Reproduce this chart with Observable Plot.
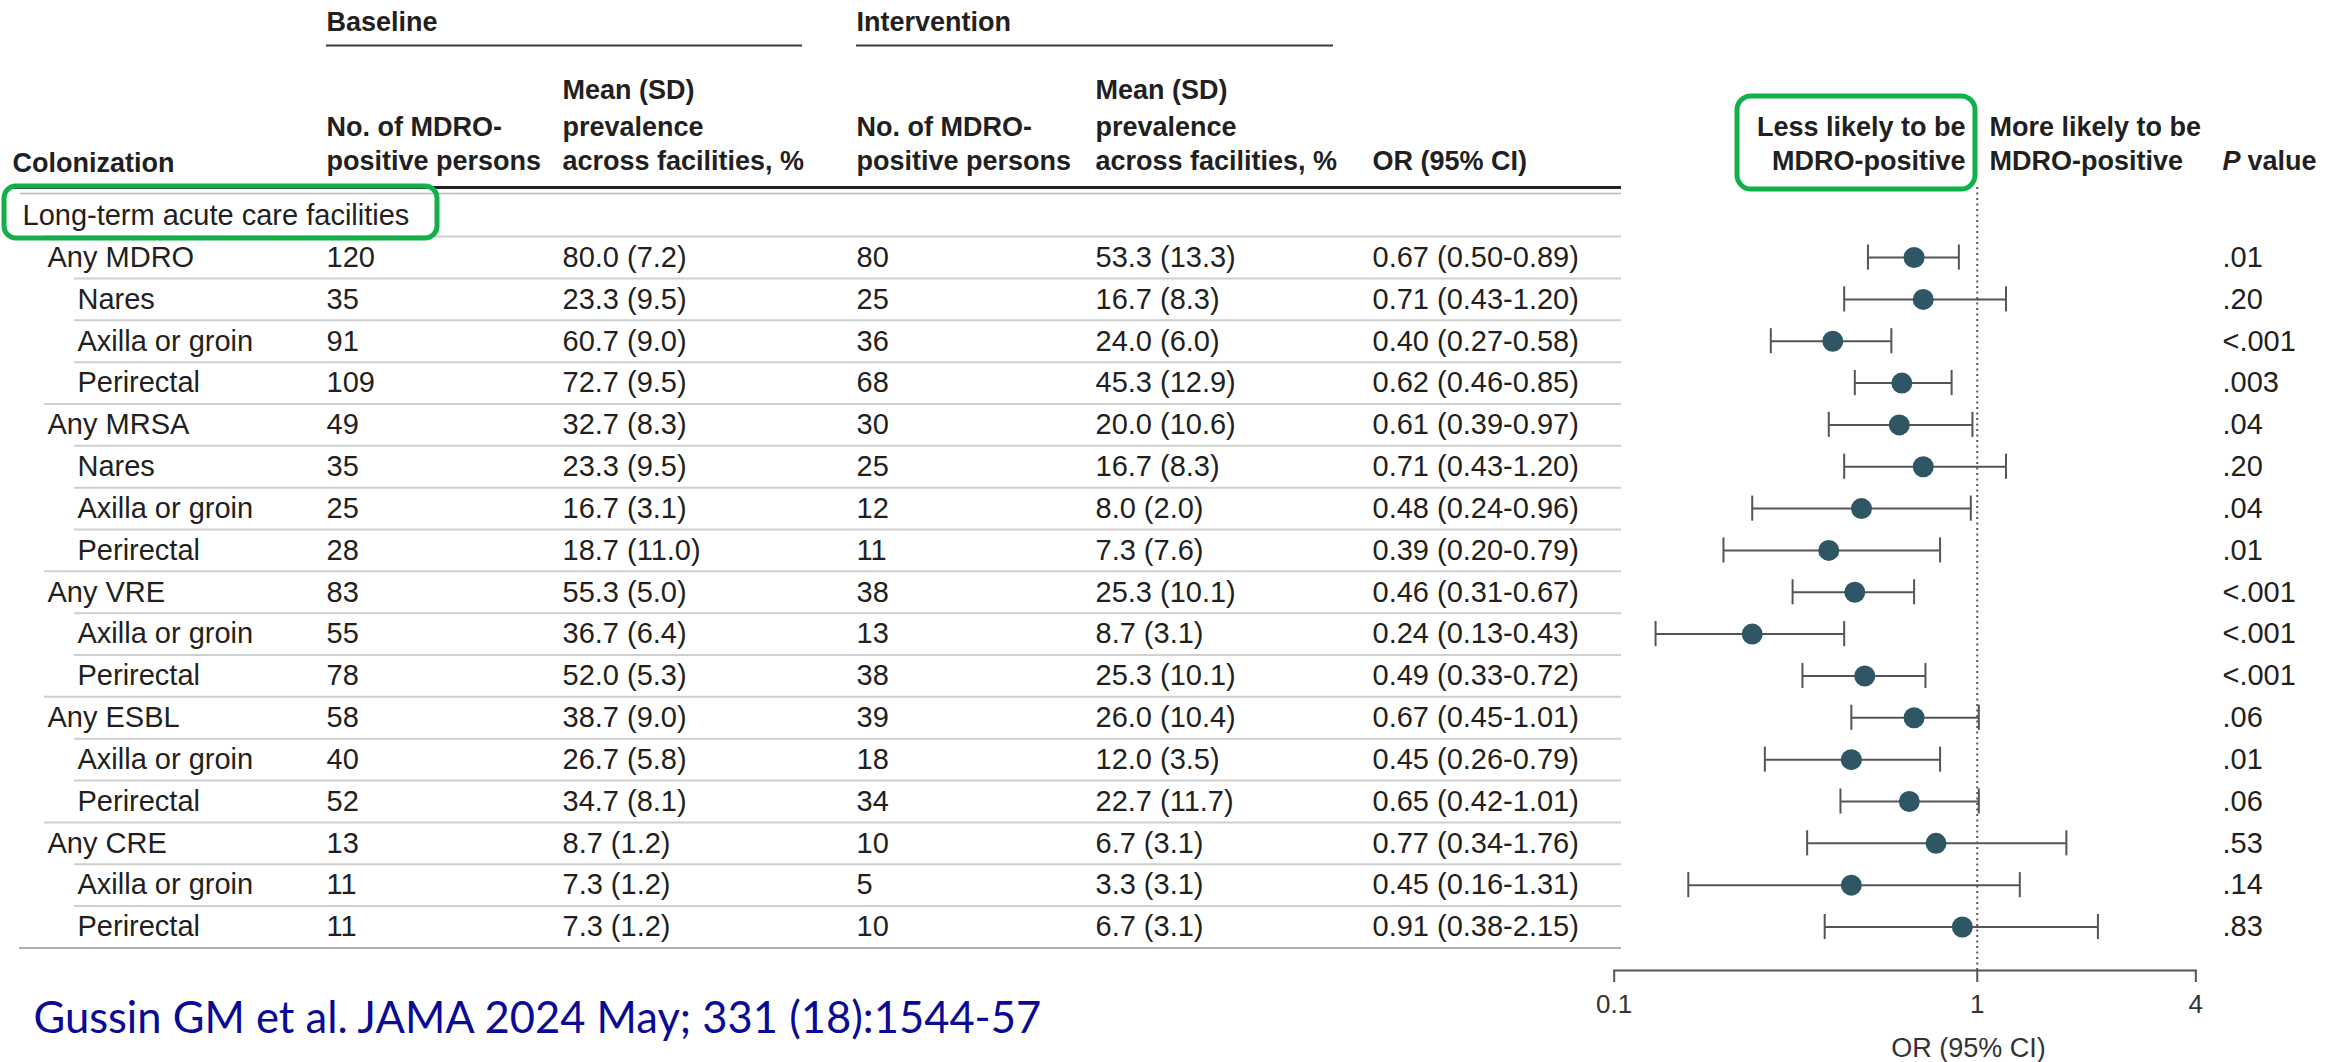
<!DOCTYPE html>
<html>
<head>
<meta charset="utf-8">
<script src="https://cdn.jsdelivr.net/npm/d3@7"></script>
<script src="https://cdn.jsdelivr.net/npm/@observablehq/plot@0.6"></script>
<style>
  html, body { margin: 0; padding: 0; background: #fff; }
  #wrap { position: relative; width: 2343px; height: 1062px; overflow: hidden; }
  #wrap svg { position: absolute; left: 0; top: 0; }
</style>
</head>
<body>
<div id="wrap"></div>
<script>
// ---------------- data ----------------
const sectionLabel = "Long-term acute care facilities";
const rowLabels = ["Any MDRO", "Nares", "Axilla or groin", "Perirectal",
  "Any MRSA", "Nares", "Axilla or groin", "Perirectal",
  "Any VRE", "Axilla or groin", "Perirectal",
  "Any ESBL", "Axilla or groin", "Perirectal",
  "Any CRE", "Axilla or groin", "Perirectal"];
const rowLevel = [0, 1, 1, 1, 0, 1, 1, 1, 0, 1, 1, 0, 1, 1, 0, 1, 1];
const baseN    = [120, 35, 91, 109, 49, 35, 25, 28, 83, 55, 78, 58, 40, 52, 13, 11, 11];
const baseMean = [80.0, 23.3, 60.7, 72.7, 32.7, 23.3, 16.7, 18.7, 55.3, 36.7, 52.0, 38.7, 26.7, 34.7, 8.7, 7.3, 7.3];
const baseSD   = [7.2, 9.5, 9.0, 9.5, 8.3, 9.5, 3.1, 11.0, 5.0, 6.4, 5.3, 9.0, 5.8, 8.1, 1.2, 1.2, 1.2];
const intN     = [80, 25, 36, 68, 30, 25, 12, 11, 38, 13, 38, 39, 18, 34, 10, 5, 10];
const intMean  = [53.3, 16.7, 24.0, 45.3, 20.0, 16.7, 8.0, 7.3, 25.3, 8.7, 25.3, 26.0, 12.0, 22.7, 6.7, 3.3, 6.7];
const intSD    = [13.3, 8.3, 6.0, 12.9, 10.6, 8.3, 2.0, 7.6, 10.1, 3.1, 10.1, 10.4, 3.5, 11.7, 3.1, 3.1, 3.1];
const orEst    = [0.67, 0.71, 0.40, 0.62, 0.61, 0.71, 0.48, 0.39, 0.46, 0.24, 0.49, 0.67, 0.45, 0.65, 0.77, 0.45, 0.91];
const orLo     = [0.50, 0.43, 0.27, 0.46, 0.39, 0.43, 0.24, 0.20, 0.31, 0.13, 0.33, 0.45, 0.26, 0.42, 0.34, 0.16, 0.38];
const orHi     = [0.89, 1.20, 0.58, 0.85, 0.97, 1.20, 0.96, 0.79, 0.67, 0.43, 0.72, 1.01, 0.79, 1.01, 1.76, 1.31, 2.15];
const pValues  = [".01", ".20", "<.001", ".003", ".04", ".20", ".04", ".01", "<.001", "<.001", "<.001", ".06", ".01", ".06", ".53", ".14", ".83"];
const axisTicks = [0.1, 1, 4];
const citation = "Gussin GM et al. JAMA 2024 May; 331 (18):1544-57";

// ---------------- layout ----------------
const W = 2343, H = 1062;
const Y = {domain: [0, 17], range: [215.2, 926.5]};
const rowY = Plot.scale({y: Y});
const ink = "#231f20";
const FONT = "'Liberation Sans', Arial, sans-serif";
const BODY = {fontFamily: FONT, fontSize: 29, fill: ink, textAnchor: "start"};
const HEAD = {fontFamily: FONT, fontSize: 27, fontWeight: "bold", fill: ink, textAnchor: "start"};

const fmt1 = v => v.toFixed(1);
const fmt2 = v => v.toFixed(2);
const rows = rowLabels.map((label, k) => ({
  i: k + 1, label, level: rowLevel[k],
  bN: String(baseN[k]), bM: `${fmt1(baseMean[k])} (${fmt1(baseSD[k])})`,
  iN: String(intN[k]), iM: `${fmt1(intMean[k])} (${fmt1(intSD[k])})`,
  orText: `${fmt2(orEst[k])} (${fmt2(orLo[k])}-${fmt2(orHi[k])})`,
  or: orEst[k], lo: orLo[k], hi: orHi[k], p: pValues[k]
}));

const colX = {label0: 47, label1: 77, bN: 326, bM: 562, iN: 856, iM: 1095, or: 1372, p: 2222};
const tableRight = 1621;

const headerTexts = [
  {t: "Baseline", x: 326, y: 22}, {t: "Intervention", x: 856, y: 22},
  {t: "No. of MDRO-", x: 326, y: 127}, {t: "positive persons", x: 326, y: 161},
  {t: "Mean (SD)", x: 562, y: 90}, {t: "prevalence", x: 562, y: 127}, {t: "across facilities, %", x: 562, y: 161},
  {t: "No. of MDRO-", x: 856, y: 127}, {t: "positive persons", x: 856, y: 161},
  {t: "Mean (SD)", x: 1095, y: 90}, {t: "prevalence", x: 1095, y: 127}, {t: "across facilities, %", x: 1095, y: 161},
  {t: "OR (95% CI)", x: 1372, y: 161}, {t: "Colonization", x: 12, y: 163},
  {t: "More likely to be", x: 1989, y: 127}, {t: "MDRO-positive", x: 1989, y: 161},
  {t: "value", x: 2247, y: 161}
];
const headerRight = [
  {t: "Less likely to be", x: 1965, y: 127}, {t: "MDRO-positive", x: 1965, y: 161}
];
const groupRules = [{y: 45, x1: 326, x2: 802}, {y: 45, x1: 856, x2: 1333}];

const seps = rows.map(r => ({y: rowY.apply(r.i - 0.5), x1: (r.level ? colX.label1 : colX.label0) - 3}));

const table = Plot.plot({
  width: W, height: H, margin: 0,
  x: {type: "identity", axis: null}, y: {type: "identity", axis: null},
  style: {background: "transparent"},
  marks: [
    // header
    Plot.text(headerTexts, {x: "x", y: "y", text: "t", ...HEAD}),
    Plot.text(headerRight, {x: "x", y: "y", text: "t", ...HEAD, textAnchor: "end"}),
    Plot.text(["P"], {x: 2222, y: 161, text: d => d, ...HEAD, fontStyle: "italic"}),
    Plot.ruleY(groupRules, {y: "y", x1: "x1", x2: "x2", stroke: "#3a3a3a", strokeWidth: 2}),
    Plot.ruleY([187], {x1: 8, x2: tableRight, stroke: "#222", strokeWidth: 3}),
    Plot.ruleY([193], {x1: 20, x2: tableRight, stroke: "#b9b9b9", strokeWidth: 1.5}),
    // row separators
    Plot.ruleY(seps, {y: "y", x1: "x1", x2: tableRight, stroke: "#cfcfcf", strokeWidth: 2}),
    Plot.ruleY([rowY.apply(17.5)], {x1: 19, x2: tableRight, stroke: "#b0b0b0", strokeWidth: 2}),
    // section label
    Plot.text([sectionLabel], {x: 22, y: rowY.apply(0), text: d => d, ...BODY}),
    // rows
    Plot.text(rows, {x: d => d.level ? colX.label1 : colX.label0, y: d => rowY.apply(d.i), text: "label", ...BODY}),
    Plot.text(rows, {x: colX.bN, y: d => rowY.apply(d.i), text: "bN", ...BODY}),
    Plot.text(rows, {x: colX.bM, y: d => rowY.apply(d.i), text: "bM", ...BODY}),
    Plot.text(rows, {x: colX.iN, y: d => rowY.apply(d.i), text: "iN", ...BODY}),
    Plot.text(rows, {x: colX.iM, y: d => rowY.apply(d.i), text: "iM", ...BODY}),
    Plot.text(rows, {x: colX.or, y: d => rowY.apply(d.i), text: "orText", ...BODY}),
    Plot.text(rows, {x: colX.p, y: d => rowY.apply(d.i), text: "p", ...BODY}),
    // axis title
    Plot.text(["OR (95% CI)"], {x: 1968, y: 1048, text: d => d, fontFamily: FONT, fontSize: 27, fill: "#333", textAnchor: "middle"}),
    // annotation boxes
    Plot.rect([0], {x1: 4, x2: 437, y1: 186, y2: 238, rx: 12, fill: "none", stroke: "#12b04a", strokeWidth: 5}),
    Plot.rect([0], {x1: 1737, x2: 1975, y1: 96, y2: 189, rx: 14, fill: "none", stroke: "#12b04a", strokeWidth: 5}),
    // citation
    Plot.text([citation], {x: 33, y: 1019, text: d => d, fontFamily: "Lato, 'Open Sans', sans-serif", fontSize: 43.5, fill: "#0a0a96", textAnchor: "start"})
  ]
});

const forest = Plot.plot({
  width: W, height: H,
  marginTop: 187, marginBottom: 92, marginLeft: 1613.7, marginRight: W - 2195.3,
  x: {type: "log", domain: [0.1, 4]},
  y: {...Y, axis: null},
  style: {background: "transparent", fontFamily: FONT, color: "#333"},
  marks: [
    Plot.ruleX([1], {stroke: "#555", strokeWidth: 2, strokeDasharray: "2 3.5"}),
    Plot.frame({anchor: "bottom", stroke: "#555", strokeWidth: 2}),
    Plot.axisX({ticks: axisTicks, tickFormat: d => String(d), tickSize: 12, tickPadding: 12, fontSize: 26, label: null, stroke: "#555", strokeWidth: 2}),
    Plot.ruleY(rows, {y: "i", x1: "lo", x2: "hi", stroke: "#555", strokeWidth: 2}),
    Plot.ruleX(rows, {x: "lo", y1: d => d.i - 0.3, y2: d => d.i + 0.3, stroke: "#555", strokeWidth: 2}),
    Plot.ruleX(rows, {x: "hi", y1: d => d.i - 0.3, y2: d => d.i + 0.3, stroke: "#555", strokeWidth: 2}),
    Plot.dot(rows, {x: "or", y: "i", r: 10.5, fill: "#2e5664", stroke: "none"})
  ]
});

const wrap = document.getElementById("wrap");
wrap.appendChild(table);
wrap.appendChild(forest);
</script>
</body>
</html>
